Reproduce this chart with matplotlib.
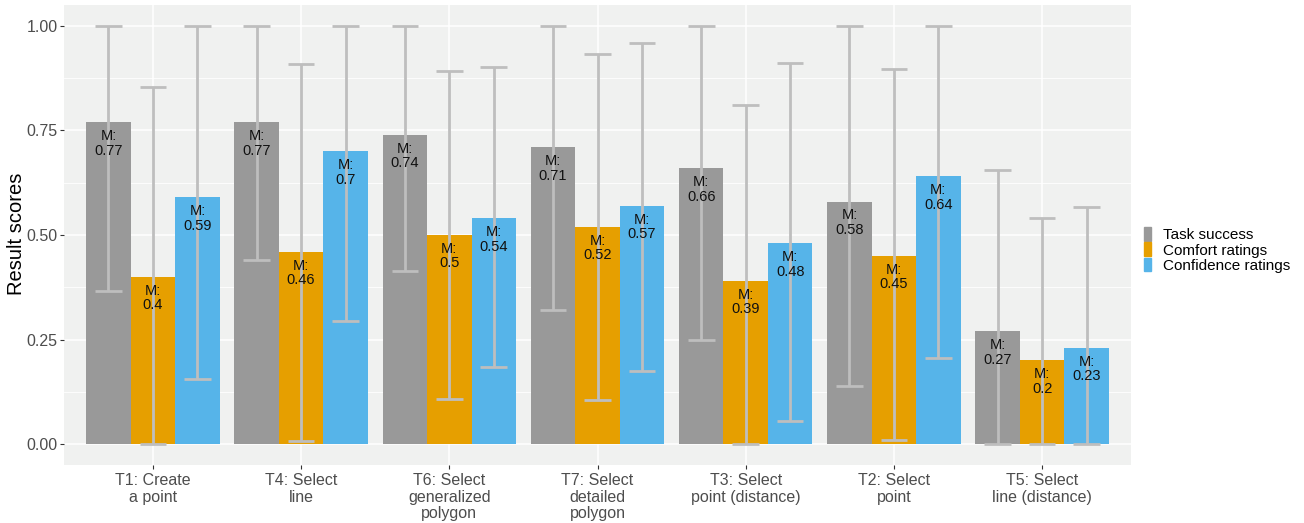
import numpy as np
import matplotlib
matplotlib.use("Agg")
from matplotlib import pyplot as plt
from matplotlib.patches import Patch

plt.rcParams['font.family'] = ['Liberation Sans', 'DejaVu Sans']

# tasks in plotted order
tasks = ["T1: Create\na point", "T4: Select\nline", "T6: Select\ngeneralized\npolygon",
         "T7: Select\ndetailed\npolygon", "T3: Select\npoint (distance)",
         "T2: Select\npoint", "T5: Select\nline (distance)"]
series = ["Task success", "Comfort ratings", "Confidence ratings"]
colors = ["#999999", "#E69F00", "#56B4E9"]

# means per series
task_mean = [0.77, 0.77, 0.74, 0.71, 0.66, 0.58, 0.27]
comfort_mean = [0.40, 0.46, 0.50, 0.52, 0.39, 0.45, 0.20]
conf_mean = [0.59, 0.70, 0.54, 0.57, 0.48, 0.64, 0.23]

# error bar ranges
task_lo = [0.365, 0.44, 0.415, 0.32, 0.25, 0.14, 0.0]
task_hi = [1.0, 1.0, 1.0, 1.0, 1.0, 1.0, 0.655]
comfort_lo = [0.0, 0.007, 0.107, 0.105, 0.0, 0.01, 0.0]
comfort_hi = [0.853, 0.91, 0.893, 0.934, 0.81, 0.896, 0.54]
conf_lo = [0.155, 0.295, 0.185, 0.175, 0.055, 0.207, 0.0]
conf_hi = [1.0, 1.0, 0.902, 0.96, 0.912, 1.0, 0.568]

means = [task_mean, comfort_mean, conf_mean]
los = [task_lo, comfort_lo, conf_lo]
his = [task_hi, comfort_hi, conf_hi]

fig = plt.figure(figsize=(13.04, 5.23), dpi=100)
ax = fig.add_axes([64 / 1304, (523 - 465) / 523, (1131 - 64) / 1304, (465 - 5) / 523])
ax.set_facecolor("#F0F1F0")
for s in ax.spines.values():
    s.set_visible(False)

x = np.arange(1, len(tasks) + 1)
bw = 0.3
cap = 0.09
for k in range(3):
    xs = x + (k - 1) * bw
    ax.bar(xs, means[k], width=bw, color=colors[k], zorder=2)
    ax.vlines(xs, los[k], his[k], color="#BEBEBE", lw=2, zorder=3)
    ax.hlines(los[k], xs - cap, xs + cap, color="#BEBEBE", lw=2, zorder=3)
    ax.hlines(his[k], xs - cap, xs + cap, color="#BEBEBE", lw=2, zorder=3)
    for xi, m in zip(xs, means[k]):
        lab = "M:\n" + ("%.2f" % m).rstrip("0").rstrip(".")
        ax.annotate(lab, (xi, m), xytext=(0, -5), textcoords="offset points",
                    ha="center", va="top", fontsize=10.5, linespacing=1.05,
                    color="#111111", zorder=4)

ax.set_xlim(0.4, 7.6)
ax.set_ylim(-0.05, 1.05)
ax.set_yticks([0, 0.25, 0.5, 0.75, 1.0])
ax.set_yticklabels(["0.00", "0.25", "0.50", "0.75", "1.00"])
ax.set_yticks([0.125, 0.375, 0.625, 0.875], minor=True)
ax.set_xticks(x)
ax.set_xticklabels(tasks, linespacing=1.1)
ax.tick_params(axis="both", which="major", length=3, color="#333333",
               labelsize=11.5, labelcolor="#4D4D4D")
ax.tick_params(axis="y", which="major", pad=1.5)
ax.tick_params(axis="x", which="major", pad=3)
ax.tick_params(axis="y", which="minor", length=0)
ax.grid(True, which="major", color="white", lw=1.1, zorder=0)
ax.grid(True, which="minor", axis="y", color="white", lw=0.6, zorder=0)
ax.set_axisbelow(True)
ax.set_ylabel("Result scores", fontsize=14.5)
ax.yaxis.set_label_coords((26 - 64) / 1067, (465 - 234) / 460)

handles = [Patch(color=c, label=s) for c, s in zip(colors, series)]
leg = fig.legend(handles=handles, loc="center left", bbox_to_anchor=(1136 / 1304, 1 - 250 / 523),
                 frameon=False, fontsize=11, handlelength=0.45, handleheight=1.0,
                 handletextpad=0.8, labelspacing=0.0, borderpad=0)

fig.savefig("out.png", dpi=100)
